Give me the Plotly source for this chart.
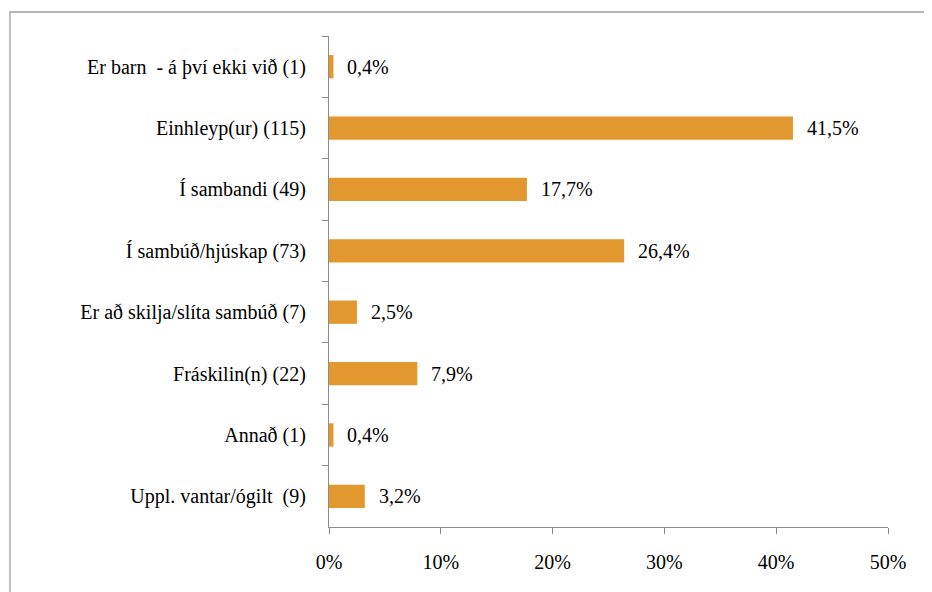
import plotly.graph_objects as go

categories = [
    "Er barn  - á því ekki við (1)",
    "Einhleyp(ur) (115)",
    "Í sambandi (49)",
    "Í sambúð/hjúskap (73)",
    "Er að skilja/slíta sambúð (7)",
    "Fráskilin(n) (22)",
    "Annað (1)",
    "Uppl. vantar/ógilt  (9)",
]
values = [0.4, 41.5, 17.7, 26.4, 2.5, 7.9, 0.4, 3.2]
value_labels = [f"{v:.1f}%".replace(".", ",") for v in values]
x_ticks = [0, 10, 20, 30, 40, 50]
x_tick_labels = [f"{t}%" for t in x_ticks]

FONT = "'Times New Roman', 'Liberation Serif', Tinos, 'DejaVu Serif', serif"
BAR = "#E3972F"
AXIS = "#8C8C8C"

fig = go.Figure()
fig.add_trace(go.Bar(
    y=categories, x=values, orientation="h",
    marker=dict(color=BAR, line=dict(width=0)),
    hoverinfo="skip",
))

for c, v, t in zip(categories, values, value_labels):
    fig.add_annotation(x=v, y=c, text=t, showarrow=False, xanchor="left",
                       xshift=12, font=dict(family=FONT, size=20, color="#000"))

fig.add_shape(type="rect", xref="paper", yref="paper",
              x0=-0.5707, x1=1.3, y0=-0.3, y1=1.0489,
              line=dict(color="#A0A0A0", width=1.3), layer="below")

fig.update_layout(
    width=932, height=592,
    margin=dict(l=321, r=52, t=28, b=73),
    paper_bgcolor="white", plot_bgcolor="white",
    bargap=0.62,
    showlegend=False,
    font=dict(family=FONT, size=20, color="#000"),
    xaxis=dict(range=[0, 50], tickvals=x_ticks, ticktext=x_tick_labels,
               showgrid=False, zeroline=False, showline=True, linecolor=AXIS,
               linewidth=1.3, ticks="outside", ticklen=6, tickcolor=AXIS,
               tickwidth=1.3, ticklabelstandoff=11, fixedrange=True),
    yaxis=dict(autorange="reversed", showgrid=False, zeroline=False,
               showline=True, linecolor=AXIS, linewidth=1.3, ticks="outside",
               ticklen=6, tickcolor=AXIS, tickwidth=1.3, tickson="boundaries",
               ticklabelstandoff=18, fixedrange=True),
)

fig.write_html("out.html")
